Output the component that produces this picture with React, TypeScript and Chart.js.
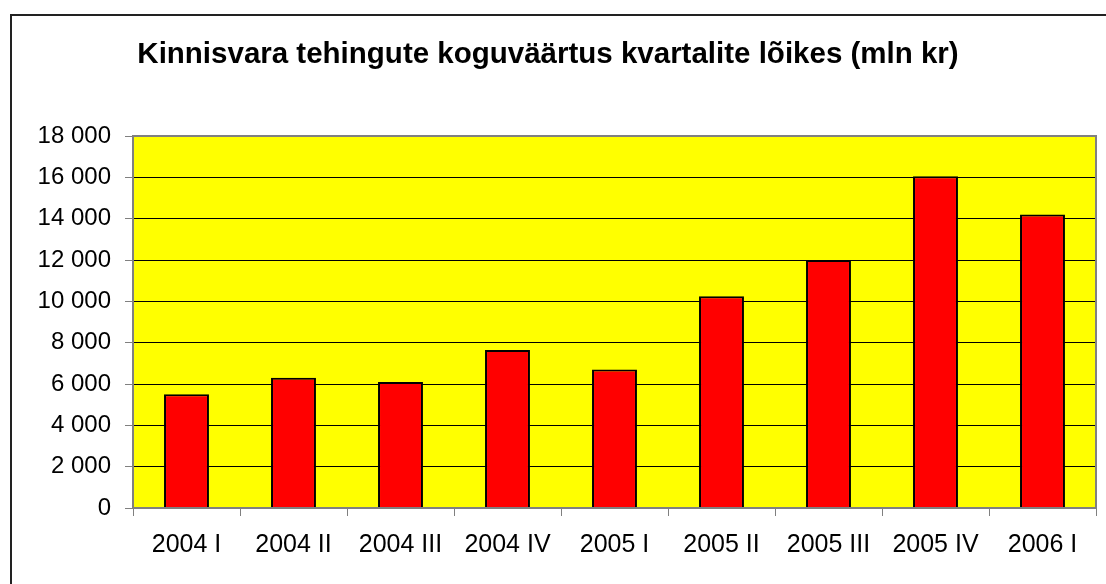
import React, { useEffect, useRef } from "react";
import { Chart, registerables } from "chart.js";

Chart.register(...registerables);

const categories = ["2004 I", "2004 II", "2004 III", "2004 IV", "2005 I", "2005 II", "2005 III", "2005 IV", "2006 I"];
const values = [5500, 6300, 6100, 7650, 6700, 10250, 12000, 16050, 14200];
const yMin = 0;
const yMax = 18000;
const yStep = 2000;
const titleText = "Kinnisvara tehingute koguväärtus kvartalite lõikes (mln kr)";

const FONT = "'Liberation Sans', Arial, sans-serif";

const fmt = (v: number) => String(v).replace(/\B(?=(\d{3})+(?!\d))/g, " ");

const plotBg = {
  id: "plotBg",
  beforeDraw(chart: any) {
    const { ctx, chartArea: a } = chart;
    ctx.save();
    ctx.fillStyle = "#FFFF00";
    ctx.fillRect(a.left, a.top, a.right - a.left, a.bottom - a.top);
    ctx.restore();
  },
  afterDraw(chart: any) {
    const { ctx, chartArea: a } = chart;
    ctx.save();
    ctx.strokeStyle = "#808080";
    ctx.lineWidth = 2;
    ctx.strokeRect(a.left, a.top, a.right - a.left, a.bottom - a.top);
    ctx.restore();
  },
};

export default function App() {
  const ref = useRef<HTMLCanvasElement>(null);
  useEffect(() => {
    if (!ref.current) return;
    const chart = new Chart(ref.current, {
      type: "bar",
      data: {
        labels: categories,
        datasets: [
          {
            data: values,
            backgroundColor: "#FF0000",
            borderColor: "#000000",
            borderWidth: 2,
            barPercentage: 0.42,
            categoryPercentage: 1,
          },
        ],
      },
      options: {
        animation: false,
        responsive: false,
        devicePixelRatio: 1,
        layout: { padding: { left: 0, right: 10, top: 0, bottom: 0 } },
        plugins: {
          legend: { display: false },
          tooltip: { enabled: false },
          title: {
            display: true,
            text: titleText,
            color: "#000",
            font: { family: FONT, size: 29.5, weight: "bold", lineHeight: 1.2 },
            padding: { top: 37, bottom: 63.6 },
          },
        },
        scales: {
          x: {
            afterFit(scale: any) {
              scale.height = 76;
            },
            grid: {
              display: true,
              drawOnChartArea: false,
              drawTicks: true,
              tickLength: 8,
              tickColor: "#808080",
              offset: true,
            },
            border: { color: "#808080", width: 2 },
            ticks: {
              color: "#000",
              font: { family: FONT, size: 25 },
              padding: 14,
              maxRotation: 0,
              autoSkip: false,
            },
          },
          y: {
            min: yMin,
            max: yMax,
            afterFit(scale: any) {
              scale.width = 133;
            },
            grid: {
              color: "#000",
              lineWidth: 1,
              drawTicks: true,
              tickLength: 8,
              tickColor: "#808080",
            },
            border: { color: "#808080", width: 2 },
            ticks: {
              stepSize: yStep,
              color: "#000",
              font: { family: FONT, size: 24 },
              padding: 14,
              callback: (v: any) => fmt(Number(v)),
            },
          },
        },
      },
      plugins: [plotBg],
    });
    return () => chart.destroy();
  }, []);

  return (
    <div style={{ position: "fixed", left: 0, top: 0, width: 1106, height: 584, overflow: "hidden", background: "#fff" }}>
      <div
        style={{
          position: "absolute",
          left: 10,
          top: 14,
          width: 1200,
          height: 700,
          border: "2px solid #222",
          boxSizing: "border-box",
        }}
      />
      <canvas ref={ref} width={1106} height={584} style={{ position: "absolute", left: 0, top: 0, width: 1106, height: 584 }} />
    </div>
  );
}
